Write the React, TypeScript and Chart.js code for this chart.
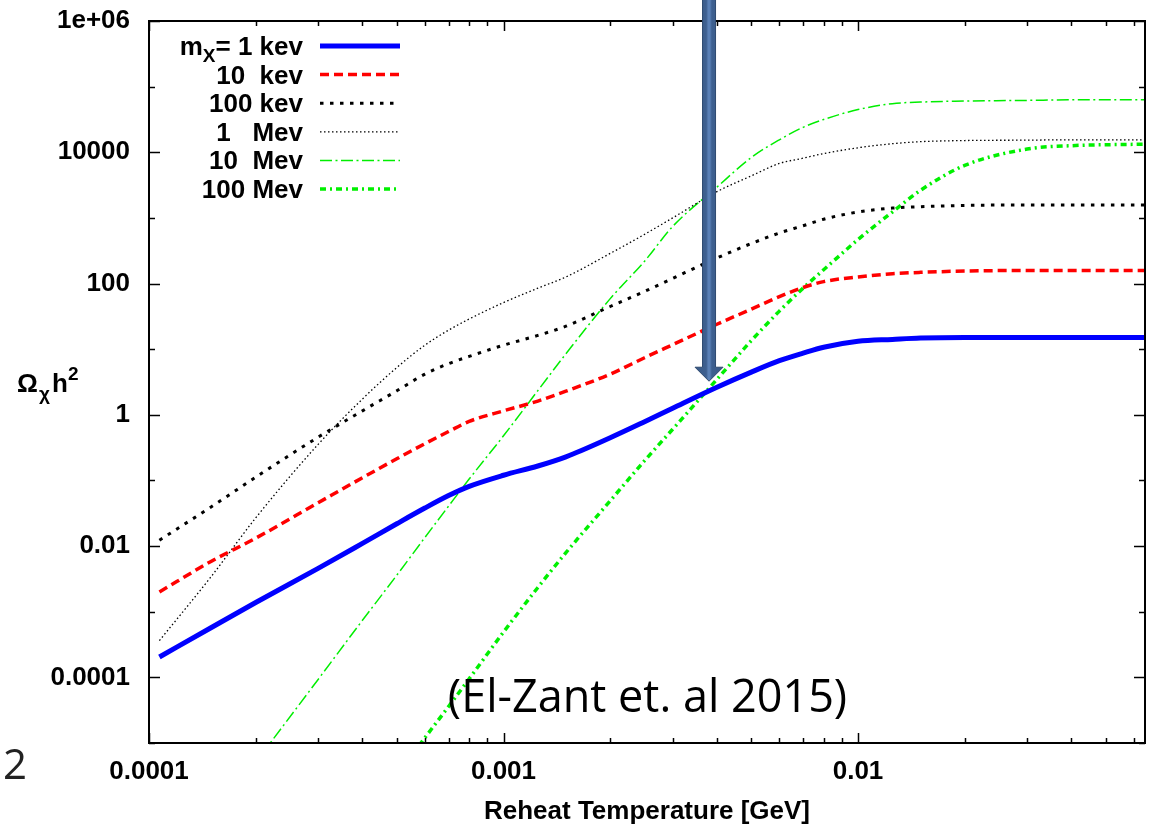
import React, { useEffect, useRef } from 'react';
import { Chart, registerables } from 'chart.js';

Chart.register(...registerables);

// Reheat temperature [GeV]
const temperatures = [1.07e-4, 1.5e-4, 2e-4, 3e-4, 4e-4, 5e-4, 6e-4, 7e-4, 8e-4, 1e-3, 1.25e-3, 1.5e-3, 2e-3, 2.5e-3, 3e-3, 4e-3, 5e-3, 6e-3, 7e-3, 8e-3, 1e-2, 1.25e-2, 1.5e-2, 2e-2, 3e-2, 4e-2, 6.45e-2];

// Omega_chi h^2 for each mass
const mass1keV = [2.04e-4, 5.75e-4, 1.38e-3, 4.57e-3, 1.10e-2, 2.19e-2, 3.80e-2, 5.89e-2, 8.13e-2, 0.120, 0.166, 0.229, 0.447, 0.785, 1.26, 2.63, 4.47, 6.68, 8.71, 10.7, 13.2, 14.1, 14.8, 15.1, 15.1, 15.1, 15.1];
const mass10keV = [2.0e-3, 5.89e-3, 1.32e-2, 4.57e-2, 0.110, 0.214, 0.363, 0.556, 0.794, 1.15, 1.62, 2.29, 4.17, 7.41, 11.7, 24.0, 40.7, 63.1, 87.1, 107, 126, 141, 148, 155, 158, 158, 158];
const mass100keV = [1.23e-2, 3.98e-2, 0.112, 0.457, 1.15, 2.32, 4.17, 6.03, 7.76, 11.5, 16.2, 22.4, 44.7, 75.9, 120, 245, 407, 589, 759, 955, 1230, 1410, 1480, 1550, 1570, 1570, 1570];
const mass1MeV = [3.63e-4, 3.47e-3, 2.69e-2, 0.355, 1.74, 5.25, 11.5, 19.5, 28.8, 51.3, 85.1, 126, 288, 562, 1000, 2510, 4370, 6760, 8130, 9550, 11700, 13500, 14500, 15100, 15300, 15500, 15500];
const mass10MeV = [6.0e-8, 6.6e-7, 5.1e-6, 9.3e-5, 7.4e-4, 3.6e-3, 1.35e-2, 4.07e-2, 0.105, 0.479, 2.34, 8.51, 58.9, 219, 741, 2950, 8320, 15500, 24000, 31600, 44700, 55000, 58200, 60300, 61700, 63100, 63100];
const mass100MeV = [5.0e-11, 5.6e-10, 4.4e-9, 8.1e-8, 6.5e-7, 3.2e-6, 1.2e-5, 3.6e-5, 9.5e-5, 4.9e-4, 2.34e-3, 7.94e-3, 4.90e-2, 0.200, 0.603, 3.47, 13.5, 38.0, 85.1, 162, 468, 1230, 2630, 6310, 11200, 12600, 13300];

const seriesLabels = ['mX= 1 kev', '10  kev', '100 kev', '1   Mev', '10  Mev', '100 Mev'];

const xTickValues = [1e-4, 1e-3, 1e-2];
const xTickLabels = ['0.0001', '0.001', '0.01'];
const yTickValues = [1e-4, 1e-2, 1, 100, 1e4, 1e6];
const yTickLabels = ['0.0001', '0.01', '1', '100', '10000', '1e+06'];

const xTitle = 'Reheat Temperature [GeV]';
const citation = '(El-Zant et. al 2015)';
const slideNumber = '2';
// Arrow annotation (data coordinates of the arrow tip)
const arrowX = 3.8e-3;
const arrowTipY = 3.25;

const FONT = "'Liberation Sans', Arial, sans-serif";

const styles = [
  { color: '#0000ff', width: 5, dash: [] as number[] },
  { color: '#ff0000', width: 3.5, dash: [9, 5] },
  { color: '#000000', width: 3, dash: [3.5, 6.5] },
  { color: '#000000', width: 1.3, dash: [1.5, 2.5] },
  { color: '#00ee00', width: 1.5, dash: [12, 3.5, 2, 3.5] },
  { color: '#00f000', width: 3.5, dash: [6, 4, 2, 4] },
];

const seriesValues = [mass1keV, mass10keV, mass100keV, mass1MeV, mass10MeV, mass100MeV];

const decorPlugin = {
  id: 'decor',
  afterDraw(chart: any) {
    const { ctx, chartArea, scales } = chart;
    const { left, right, top, bottom } = chartArea;
    const x = scales.x;
    const y = scales.y;
    ctx.save();
    ctx.setLineDash([]);
    ctx.strokeStyle = '#000';
    ctx.lineWidth = 2;
    const line = (x1: number, y1: number, x2: number, y2: number) => {
      ctx.beginPath();
      ctx.moveTo(x1, y1);
      ctx.lineTo(x2, y2);
      ctx.stroke();
    };
    // ticks
    ctx.lineWidth = 1.5;
    for (let e = -4; e <= -2; e++) {
      for (let m = 1; m <= 9; m++) {
        const v = m * Math.pow(10, e);
        if (v < x.min * 0.999 || v > x.max) continue;
        const px = Math.round(x.getPixelForValue(v)) + 0.5;
        const len = m === 1 ? 10 : 5;
        line(px, bottom, px, bottom - len);
        line(px, top, px, top + len);
      }
    }
    for (let e = -5; e <= 6; e++) {
      const py = Math.round(y.getPixelForValue(Math.pow(10, e))) + 0.5;
      const len = e % 2 === 0 ? 11 : 6;
      line(left, py, left + len, py);
      line(right, py, right - len, py);
    }
    // frame
    ctx.lineWidth = 2;
    ctx.strokeRect(left, top, right - left, bottom - top);

    // legend
    ctx.fillStyle = '#000';
    ctx.textBaseline = 'alphabetic';
    const textRight = 303;
    chart.data.datasets.forEach((ds: any, i: number) => {
      const cy = 46 + i * 28.6;
      const base = cy + 9;
      ctx.font = `bold 26px ${FONT}`;
      ctx.textAlign = 'right';
      if (i === 0) {
        const rest = '= 1 kev';
        ctx.fillText(rest, textRight, base);
        const w1 = ctx.measureText(rest).width;
        ctx.font = `bold 19px ${FONT}`;
        ctx.fillText('X', textRight - w1, base + 7);
        const w2 = ctx.measureText('X').width;
        ctx.font = `bold 26px ${FONT}`;
        ctx.fillText('m', textRight - w1 - w2, base);
      } else {
        ctx.fillText(ds.label, textRight, base);
      }
      ctx.strokeStyle = ds.borderColor;
      ctx.lineWidth = ds.borderWidth;
      ctx.setLineDash(ds.borderDash || []);
      line(320, cy, 400, cy);
      ctx.setLineDash([]);
    });

    // y title  Ω_χ h^2
    ctx.fillStyle = '#000';
    ctx.textAlign = 'left';
    ctx.font = `bold 26px ${FONT}`;
    ctx.fillText('Ω', 17, 392);
    ctx.font = `bold 19px ${FONT}`;
    ctx.fillText('χ', 39, 400);
    ctx.font = `bold 26px ${FONT}`;
    ctx.fillText('h', 52, 392);
    ctx.font = `bold 19px ${FONT}`;
    ctx.fillText('2', 68, 380);

    // citation
    ctx.font = `45px 'Open Sans', 'Noto Sans', sans-serif`;
    ctx.textAlign = 'center';
    ctx.fillText(citation, 647.5, 712, 421);

    // slide number
    ctx.font = `42px 'Open Sans', 'Noto Sans', sans-serif`;
    ctx.textAlign = 'left';
    ctx.fillStyle = '#222';
    ctx.fillText(slideNumber, 3, 779);

    // arrow
    const ax = x.getPixelForValue(arrowX);
    const tip = y.getPixelForValue(arrowTipY);
    const hw = 6.5;
    const headW = 14;
    const headH = 14;
    const grad = ctx.createLinearGradient(ax - headW, 0, ax + headW, 0);
    grad.addColorStop(0, '#3a5a86');
    grad.addColorStop(0.4, '#3e6090');
    grad.addColorStop(0.47, '#5a80b6');
    grad.addColorStop(0.53, '#5a80b6');
    grad.addColorStop(0.6, '#3e6090');
    grad.addColorStop(1, '#3a5a86');
    ctx.beginPath();
    ctx.moveTo(ax - hw, -2);
    ctx.lineTo(ax + hw, -2);
    ctx.lineTo(ax + hw, tip - headH);
    ctx.lineTo(ax + headW, tip - headH);
    ctx.lineTo(ax, tip);
    ctx.lineTo(ax - headW, tip - headH);
    ctx.lineTo(ax - hw, tip - headH);
    ctx.closePath();
    ctx.fillStyle = grad;
    ctx.fill();
    ctx.strokeStyle = '#2e4a70';
    ctx.lineWidth = 1;
    ctx.stroke();
    ctx.restore();
  },
};

export default function App() {
  const ref = useRef<HTMLCanvasElement>(null);
  useEffect(() => {
    if (!ref.current) return;
    const datasets = seriesValues.map((vals, i) => ({
      label: seriesLabels[i],
      data: temperatures.map((t, j) => ({ x: t, y: vals[j] })),
      borderColor: styles[i].color,
      backgroundColor: styles[i].color,
      borderWidth: styles[i].width,
      borderDash: styles[i].dash,
      pointRadius: 0,
      fill: false,
      cubicInterpolationMode: 'monotone' as const,
    }));
    const chart = new Chart(ref.current, {
      type: 'line',
      data: { datasets },
      options: {
        animation: false,
        responsive: false,
        devicePixelRatio: 1,
        layout: { padding: { left: 0, top: 21, right: 4, bottom: 0 } },
        plugins: { legend: { display: false }, tooltip: { enabled: false } },
        scales: {
          x: {
            type: 'logarithmic',
            position: 'bottom',
            min: 1e-4,
            max: 0.0645,
            grid: { display: false, drawTicks: false, tickLength: 0 },
            border: { display: false },
            afterBuildTicks: (scale: any) => {
              scale.ticks = xTickValues.map((v) => ({ value: v }));
            },
            afterFit: (scale: any) => {
              scale.height = 86;
              scale.paddingLeft = 0;
              scale.paddingRight = 0;
            },
            ticks: {
              autoSkip: false,
              maxRotation: 0,
              padding: 13,
              color: '#000',
              font: { family: FONT, size: 26, weight: 'bold' },
              callback: (_v: any, i: number) => xTickLabels[i],
            },
            title: {
              display: true,
              text: xTitle,
              color: '#000',
              font: { family: FONT, size: 26, weight: 'bold' },
              padding: { top: 0, bottom: 2 },
            },
          },
          y: {
            type: 'logarithmic',
            position: 'left',
            min: 1e-5,
            max: 1e6,
            grid: { display: false, drawTicks: false, tickLength: 0 },
            border: { display: false },
            afterBuildTicks: (scale: any) => {
              scale.ticks = yTickValues.map((v) => ({ value: v }));
            },
            afterFit: (scale: any) => {
              scale.width = 149;
              scale.paddingTop = 0;
              scale.paddingBottom = 0;
            },
            ticks: {
              autoSkip: false,
              padding: 19,
              color: '#000',
              font: { family: FONT, size: 26, weight: 'bold' },
              callback: (_v: any, i: number) => yTickLabels[i],
            },
          },
        },
      },
      plugins: [decorPlugin],
    } as any);
    return () => chart.destroy();
  }, []);
  return (
    <div style={{ position: 'absolute', left: 0, top: 0, width: 1149, height: 829, background: '#fff' }}>
      <canvas ref={ref} width={1149} height={829} style={{ display: 'block' }} />
    </div>
  );
}
